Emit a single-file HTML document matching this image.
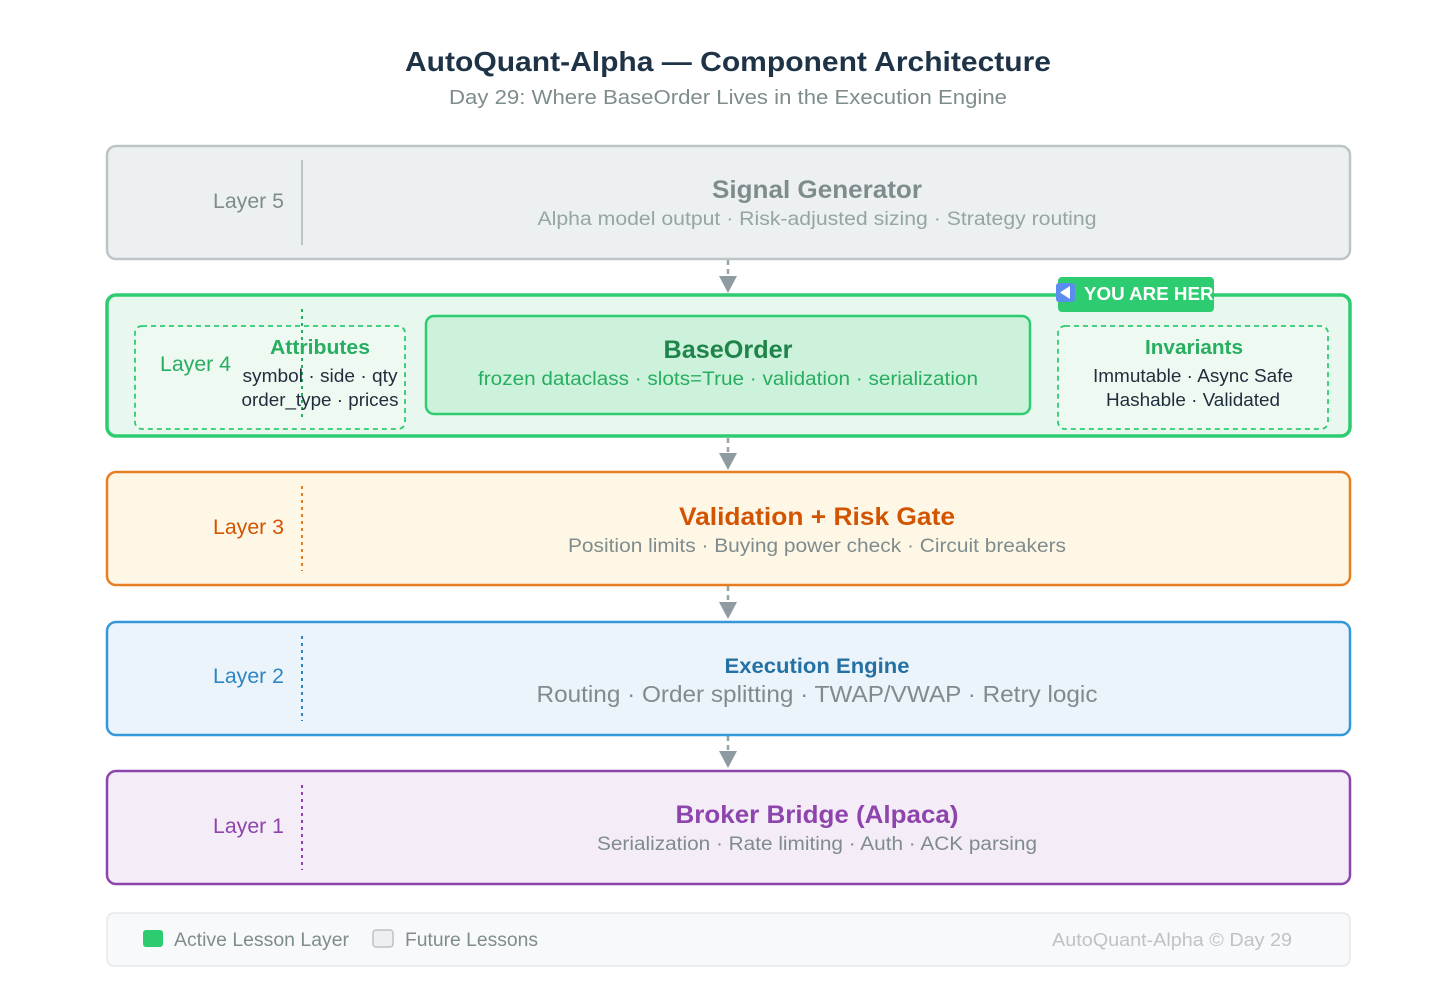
<!DOCTYPE html>
<html><head><meta charset="utf-8"><style>body{margin:0;background:#fff}svg{display:block}text{font-family:"Liberation Sans","DejaVu Sans",sans-serif}</style></head><body>
<svg width="1456" height="994" viewBox="0 0 1456 994" xmlns="http://www.w3.org/2000/svg">
<defs><clipPath id="bc"><rect x="1056" y="270" width="158" height="45"/></clipPath></defs>
<rect width="1456" height="994" fill="#fff"/>
<text x="728" y="71" text-anchor="middle" font-size="28" font-weight="bold" fill="#1f3347" textLength="646" lengthAdjust="spacingAndGlyphs">AutoQuant-Alpha — Component Architecture</text>
<text x="728" y="104" text-anchor="middle" font-size="20" fill="#7f8c8d" textLength="558" lengthAdjust="spacingAndGlyphs">Day 29: Where BaseOrder Lives in the Execution Engine</text>
<g stroke="#95a5a6" stroke-width="2.5" stroke-dasharray="5,4" fill="none">
<line x1="728" y1="260" x2="728" y2="286"/><line x1="728" y1="438" x2="728" y2="464"/><line x1="728" y1="586" x2="728" y2="612"/><line x1="728" y1="736" x2="728" y2="762"/>
</g>
<g fill="#8e9ba0"><path d="M719,276 L737,276 L728,293z"/><path d="M719,453 L737,453 L728,470z"/><path d="M719,602 L737,602 L728,619z"/><path d="M719,751 L737,751 L728,768z"/></g>
<rect x="107" y="146" width="1243" height="113" rx="9" fill="#ecf0f1" stroke="#bdc3c7" stroke-width="2.5"/>
<line x1="302" y1="160" x2="302" y2="245" stroke="#bdc3c7" stroke-width="2"/>
<text x="284" y="208" text-anchor="end" font-size="21" fill="#7f8c8d" textLength="71" lengthAdjust="spacingAndGlyphs">Layer 5</text>
<text x="817" y="198" text-anchor="middle" font-size="25" font-weight="bold" fill="#7f8c8d" textLength="210" lengthAdjust="spacingAndGlyphs">Signal Generator</text>
<text x="817" y="225" text-anchor="middle" font-size="19" fill="#95a5a6" textLength="559" lengthAdjust="spacingAndGlyphs">Alpha model output · Risk-adjusted sizing · Strategy routing</text>
<rect x="107" y="295" width="1243" height="141" rx="9" fill="#e9f8ef" stroke="#2ecc71" stroke-width="3.5"/>
<rect x="135" y="326" width="270" height="103" rx="7" fill="#edf9f1" stroke="#2ecc71" stroke-width="1.8" stroke-dasharray="5,4"/>
<line x1="302" y1="309" x2="302" y2="420" stroke="#27ae60" stroke-width="2" stroke-dasharray="3,4"/>
<text x="231" y="371" text-anchor="end" font-size="21" fill="#27ae60" textLength="71" lengthAdjust="spacingAndGlyphs">Layer 4</text>
<text x="320" y="354" text-anchor="middle" font-size="20" font-weight="bold" fill="#27ae60" textLength="100" lengthAdjust="spacingAndGlyphs">Attributes</text>
<text x="320" y="382" text-anchor="middle" font-size="18" fill="#1f2d3d" textLength="155" lengthAdjust="spacingAndGlyphs">symbol · side · qty</text>
<text x="320" y="406" text-anchor="middle" font-size="18" fill="#1f2d3d" textLength="157" lengthAdjust="spacingAndGlyphs">order_type · prices</text>
<rect x="426" y="316" width="604" height="98" rx="8" fill="#cdf2dc" stroke="#2ecc71" stroke-width="2.5"/>
<text x="728" y="358" text-anchor="middle" font-size="25" font-weight="bold" fill="#1e8449" textLength="129" lengthAdjust="spacingAndGlyphs">BaseOrder</text>
<text x="728" y="385" text-anchor="middle" font-size="19" fill="#27ae60" textLength="500" lengthAdjust="spacingAndGlyphs">frozen dataclass · slots=True · validation · serialization</text>
<rect x="1058" y="326" width="270" height="103" rx="7" fill="#edf9f1" stroke="#2ecc71" stroke-width="1.8" stroke-dasharray="5,4"/>
<text x="1194" y="354" text-anchor="middle" font-size="20" font-weight="bold" fill="#27ae60" textLength="98" lengthAdjust="spacingAndGlyphs">Invariants</text>
<text x="1193" y="382" text-anchor="middle" font-size="18" fill="#1f2d3d" textLength="200" lengthAdjust="spacingAndGlyphs">Immutable · Async Safe</text>
<text x="1193" y="406" text-anchor="middle" font-size="18" fill="#1f2d3d" textLength="174" lengthAdjust="spacingAndGlyphs">Hashable · Validated</text>
<rect x="1058" y="277" width="156" height="35" rx="4" fill="#2ecc71"/>
<rect x="1056" y="283" width="19" height="19" rx="3" fill="#5b8def"/>
<path d="M1070,286 L1060,292.5 L1070,299z" fill="#fff"/>
<text x="1084" y="300" font-size="18" font-weight="bold" fill="#fff" textLength="142" lengthAdjust="spacingAndGlyphs" clip-path="url(#bc)">YOU ARE HERE</text>
<rect x="107" y="472" width="1243" height="113" rx="9" fill="#fef7e6" stroke="#e67e22" stroke-width="2.5"/>
<line x1="302" y1="486" x2="302" y2="571" stroke="#e67e22" stroke-width="2" stroke-dasharray="3,4"/>
<text x="284" y="534" text-anchor="end" font-size="21" fill="#d35400" textLength="71" lengthAdjust="spacingAndGlyphs">Layer 3</text>
<text x="817" y="525" text-anchor="middle" font-size="25" font-weight="bold" fill="#d35400" textLength="276" lengthAdjust="spacingAndGlyphs">Validation + Risk Gate</text>
<text x="817" y="552" text-anchor="middle" font-size="19" fill="#7f8c8d" textLength="498" lengthAdjust="spacingAndGlyphs">Position limits · Buying power check · Circuit breakers</text>
<rect x="107" y="622" width="1243" height="113" rx="9" fill="#ebf4fb" stroke="#3498db" stroke-width="2.5"/>
<line x1="302" y1="636" x2="302" y2="721" stroke="#2e86c1" stroke-width="2" stroke-dasharray="3,4"/>
<text x="284" y="683" text-anchor="end" font-size="21" fill="#2e86c1" textLength="71" lengthAdjust="spacingAndGlyphs">Layer 2</text>
<text x="817" y="673" text-anchor="middle" font-size="21" font-weight="bold" fill="#2471a3" textLength="185" lengthAdjust="spacingAndGlyphs">Execution Engine</text>
<text x="817" y="702" text-anchor="middle" font-size="23" fill="#7f8c8d" textLength="561" lengthAdjust="spacingAndGlyphs">Routing · Order splitting · TWAP/VWAP · Retry logic</text>
<rect x="107" y="771" width="1243" height="113" rx="9" fill="#f4ecf7" stroke="#8e44ad" stroke-width="2.5"/>
<line x1="302" y1="785" x2="302" y2="870" stroke="#8e44ad" stroke-width="2" stroke-dasharray="3,4"/>
<text x="284" y="833" text-anchor="end" font-size="21" fill="#8e44ad" textLength="71" lengthAdjust="spacingAndGlyphs">Layer 1</text>
<text x="817" y="823" text-anchor="middle" font-size="25" font-weight="bold" fill="#8e44ad" textLength="283" lengthAdjust="spacingAndGlyphs">Broker Bridge (Alpaca)</text>
<text x="817" y="850" text-anchor="middle" font-size="19" fill="#7f8c8d" textLength="440" lengthAdjust="spacingAndGlyphs">Serialization · Rate limiting · Auth · ACK parsing</text>
<rect x="107" y="913" width="1243" height="53" rx="7" fill="#f8f9fa" stroke="#e5e8ea" stroke-width="1.5"/>
<rect x="143" y="930" width="20" height="17" rx="3" fill="#2ecc71"/>
<text x="174" y="946" font-size="19" fill="#7f8c8d" textLength="175" lengthAdjust="spacingAndGlyphs">Active Lesson Layer</text>
<rect x="373" y="930" width="20" height="17" rx="3" fill="#ecf0f1" stroke="#bdc3c7" stroke-width="1.5"/>
<text x="405" y="946" font-size="19" fill="#7f8c8d" textLength="133" lengthAdjust="spacingAndGlyphs">Future Lessons</text>
<text x="1292" y="946" text-anchor="end" font-size="18" fill="#bdc3c7" textLength="240" lengthAdjust="spacingAndGlyphs">AutoQuant-Alpha © Day 29</text>
</svg>
</body></html>
